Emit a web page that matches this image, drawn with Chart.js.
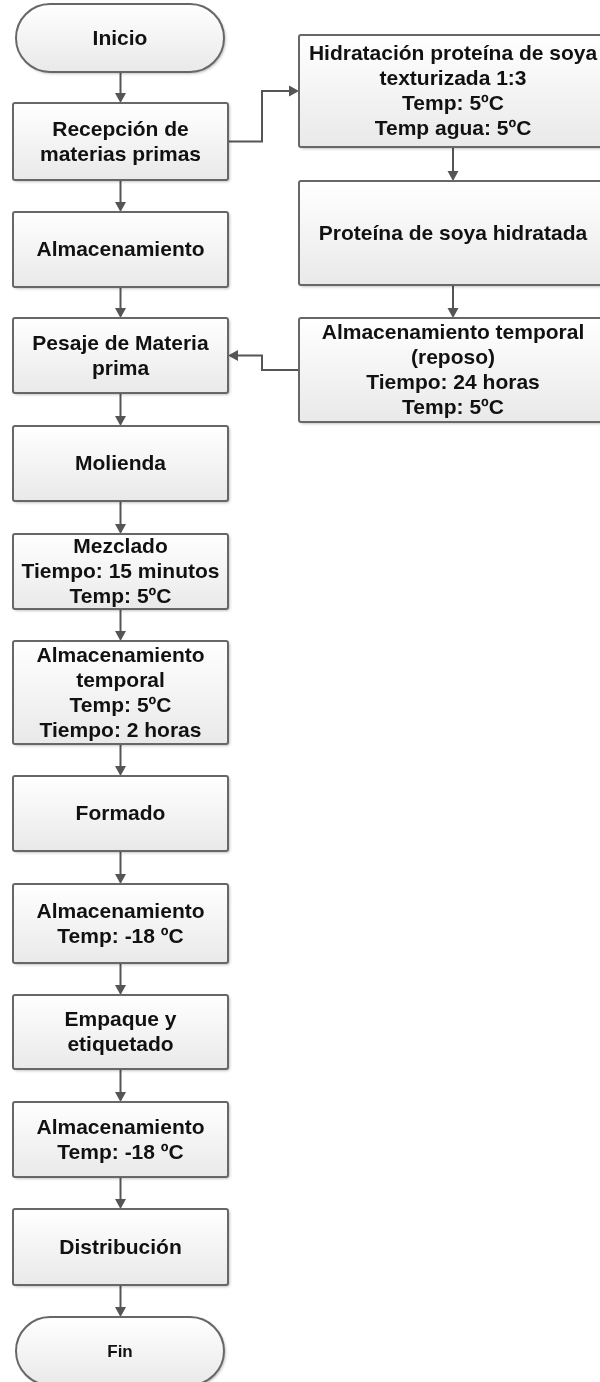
<!DOCTYPE html>
<html>
<head>
<meta charset="utf-8">
<script src="https://cdn.jsdelivr.net/npm/chart.js@4.4.0/dist/chart.umd.min.js"></script>
<style>
  html, body { margin: 0; padding: 0; background: #fff; }
  #wrap { width: 600px; height: 1382px; position: relative; }
</style>
</head>
<body>
<div id="wrap"><canvas id="flow"></canvas></div>
<script>
// Pasos de la columna principal (de arriba a abajo)
const mainSteps = [
    'Inicio',
    'Recepción de\nmaterias primas',
    'Almacenamiento',
    'Pesaje de Materia\nprima',
    'Molienda',
    'Mezclado\nTiempo: 15 minutos\nTemp: 5ºC',
    'Almacenamiento\ntemporal\nTemp: 5ºC\nTiempo: 2 horas',
    'Formado',
    'Almacenamiento\nTemp: -18 ºC',
    'Empaque y\netiquetado',
    'Almacenamiento\nTemp: -18 ºC',
    'Distribución',
    'Fin'
];
// borde superior / inferior de cada paso (unidades del eje y)
const mainTop    = [4, 103, 212, 318, 426, 534, 641, 776, 884, 995, 1102, 1209, 1317];
const mainBottom = [72, 180, 287, 393, 501, 609, 744, 851, 963, 1069, 1177, 1285, 1385];

// Rama lateral (proteína de soya)
const sideSteps = [
    'Hidratación proteína de soya\ntexturizada 1:3\nTemp: 5ºC\nTemp agua: 5ºC',
    'Proteína de soya hidratada',
    'Almacenamiento temporal\n(reposo)\nTiempo: 24 horas\nTemp: 5ºC'
];
const sideTop    = [35, 181, 318];
const sideBottom = [147, 285, 422];

// Enlaces entre columnas: [origen, destino]
const branchOut = [1, 0];  // Recepción -> Hidratación
const branchIn  = [2, 3];  // Almacenamiento temporal -> Pesaje

// Geometría de columnas y estilos
const leftCol  = { x0: 13, x1: 228 };
const rightCol = { x0: 299, x1: 607 };
const lineColor = '#555555';
const borderColor = '#676767';
const textColor = '#111111';
const fontFamily = '"Liberation Sans", Arial, sans-serif';

function centers(tops, bottoms, col) {
    return tops.map((t, i) => ({ x: (col.x0 + col.x1) / 2, y: (t + bottoms[i]) / 2 }));
}

function arrow(ctx, pts) {
    const head = 10, half = 5.5;
    const n = pts.length;
    const a = pts[n - 2], b = pts[n - 1];
    const ang = Math.atan2(b.y - a.y, b.x - a.x);
    const base = { x: b.x - head * Math.cos(ang), y: b.y - head * Math.sin(ang) };
    ctx.save();
    ctx.strokeStyle = lineColor;
    ctx.fillStyle = lineColor;
    ctx.lineWidth = 2;
    ctx.beginPath();
    ctx.moveTo(pts[0].x, pts[0].y);
    for (let i = 1; i < n - 1; i++) ctx.lineTo(pts[i].x, pts[i].y);
    ctx.lineTo(base.x, base.y);
    ctx.stroke();
    ctx.beginPath();
    ctx.moveTo(b.x, b.y);
    ctx.lineTo(base.x + half * Math.sin(ang), base.y - half * Math.cos(ang));
    ctx.lineTo(base.x - half * Math.sin(ang), base.y + half * Math.cos(ang));
    ctx.closePath();
    ctx.fill();
    ctx.restore();
}

function shapePath(ctx, x, y, w, h, r) {
    ctx.beginPath();
    ctx.moveTo(x + r, y);
    ctx.lineTo(x + w - r, y);
    ctx.arcTo(x + w, y, x + w, y + r, r);
    ctx.lineTo(x + w, y + h - r);
    ctx.arcTo(x + w, y + h, x + w - r, y + h, r);
    ctx.lineTo(x + r, y + h);
    ctx.arcTo(x, y + h, x, y + h - r, r);
    ctx.lineTo(x, y + r);
    ctx.arcTo(x, y, x + r, y, r);
    ctx.closePath();
}

function drawNode(ctx, box, text, terminal, fontSize) {
    const w = box.x1 - box.x0, h = box.y1 - box.y0;
    const r = terminal ? h / 2 : 2;
    const grad = ctx.createLinearGradient(0, box.y0, 0, box.y1);
    grad.addColorStop(0, '#ffffff');
    grad.addColorStop(1, '#e9e9e9');
    ctx.save();
    ctx.shadowColor = 'rgba(0,0,0,0.3)';
    ctx.shadowBlur = 3;
    ctx.shadowOffsetX = 1.5;
    ctx.shadowOffsetY = 1.5;
    shapePath(ctx, box.x0, box.y0, w, h, r);
    ctx.fillStyle = grad;
    ctx.fill();
    ctx.restore();
    ctx.save();
    shapePath(ctx, box.x0, box.y0, w, h, r);
    ctx.strokeStyle = borderColor;
    ctx.lineWidth = 2;
    ctx.stroke();
    // texto
    const lines = text.split('\n');
    const lh = 25;
    ctx.fillStyle = textColor;
    ctx.font = 'bold ' + fontSize + 'px ' + fontFamily;
    ctx.textAlign = 'center';
    ctx.textBaseline = 'middle';
    const cx = (box.x0 + box.x1) / 2, cy = (box.y0 + box.y1) / 2;
    lines.forEach((ln, i) => {
        ctx.fillText(ln, cx, cy + (i - (lines.length - 1) / 2) * lh + 1);
    });
    ctx.restore();
}

const flowPlugin = {
    id: 'flowchart',
    afterDatasetsDraw(chart) {
        const ctx = chart.ctx;
        const xs = chart.scales.x, ys = chart.scales.y;
        const P = (x, y) => ({ x: xs.getPixelForValue(x), y: ys.getPixelForValue(y) });
        const boxOf = (col, t, b) => ({
            x0: xs.getPixelForValue(col.x0), x1: xs.getPixelForValue(col.x1),
            y0: ys.getPixelForValue(t), y1: ys.getPixelForValue(b)
        });
        const lx = (leftCol.x0 + leftCol.x1) / 2;
        const rx = (rightCol.x0 + rightCol.x1) / 2;
        const elbow = (leftCol.x1 + rightCol.x0) / 2 - 1.5;

        // flechas verticales de la columna principal
        for (let i = 0; i < mainSteps.length - 1; i++) {
            arrow(ctx, [P(lx, mainBottom[i]), P(lx, mainTop[i + 1])]);
        }
        // flechas verticales de la rama lateral
        for (let i = 0; i < sideSteps.length - 1; i++) {
            arrow(ctx, [P(rx, sideBottom[i]), P(rx, sideTop[i + 1])]);
        }
        // salida hacia la rama
        const yo1 = (mainTop[branchOut[0]] + mainBottom[branchOut[0]]) / 2;
        const yo2 = (sideTop[branchOut[1]] + sideBottom[branchOut[1]]) / 2;
        arrow(ctx, [P(leftCol.x1, yo1), P(elbow, yo1), P(elbow, yo2), P(rightCol.x0, yo2)]);
        // regreso a la columna principal
        const yi1 = (sideTop[branchIn[0]] + sideBottom[branchIn[0]]) / 2;
        const yi2 = (mainTop[branchIn[1]] + mainBottom[branchIn[1]]) / 2;
        arrow(ctx, [P(rightCol.x0, yi1), P(elbow, yi1), P(elbow, yi2), P(leftCol.x1, yi2)]);

        // nodos
        mainSteps.forEach((s, i) => {
            const terminal = i === 0 || i === mainSteps.length - 1;
            const col = terminal ? { x0: leftCol.x0 + 3, x1: leftCol.x1 - 4 } : leftCol;
            const fs = (i === mainSteps.length - 1) ? 17 : 21;
            drawNode(ctx, boxOf(col, mainTop[i], mainBottom[i]), s, terminal, fs);
        });
        sideSteps.forEach((s, i) => {
            drawNode(ctx, boxOf(rightCol, sideTop[i], sideBottom[i]), s, false, 21);
        });
    }
};

new Chart(document.getElementById('flow'), {
    type: 'scatter',
    data: {
        datasets: [
            { label: 'Proceso', data: centers(mainTop, mainBottom, leftCol), pointRadius: 0 },
            { label: 'Soya', data: centers(sideTop, sideBottom, rightCol), pointRadius: 0 }
        ]
    },
    options: {
        responsive: true,
        maintainAspectRatio: false,
        animation: false,
        layout: { padding: 0 },
        events: [],
        plugins: { legend: { display: false }, tooltip: { enabled: false } },
        scales: {
            x: { type: 'linear', min: 0, max: 600, display: false },
            y: { type: 'linear', min: 0, max: 1382, reverse: true, display: false }
        }
    },
    plugins: [flowPlugin]
});
</script>
</body>
</html>
